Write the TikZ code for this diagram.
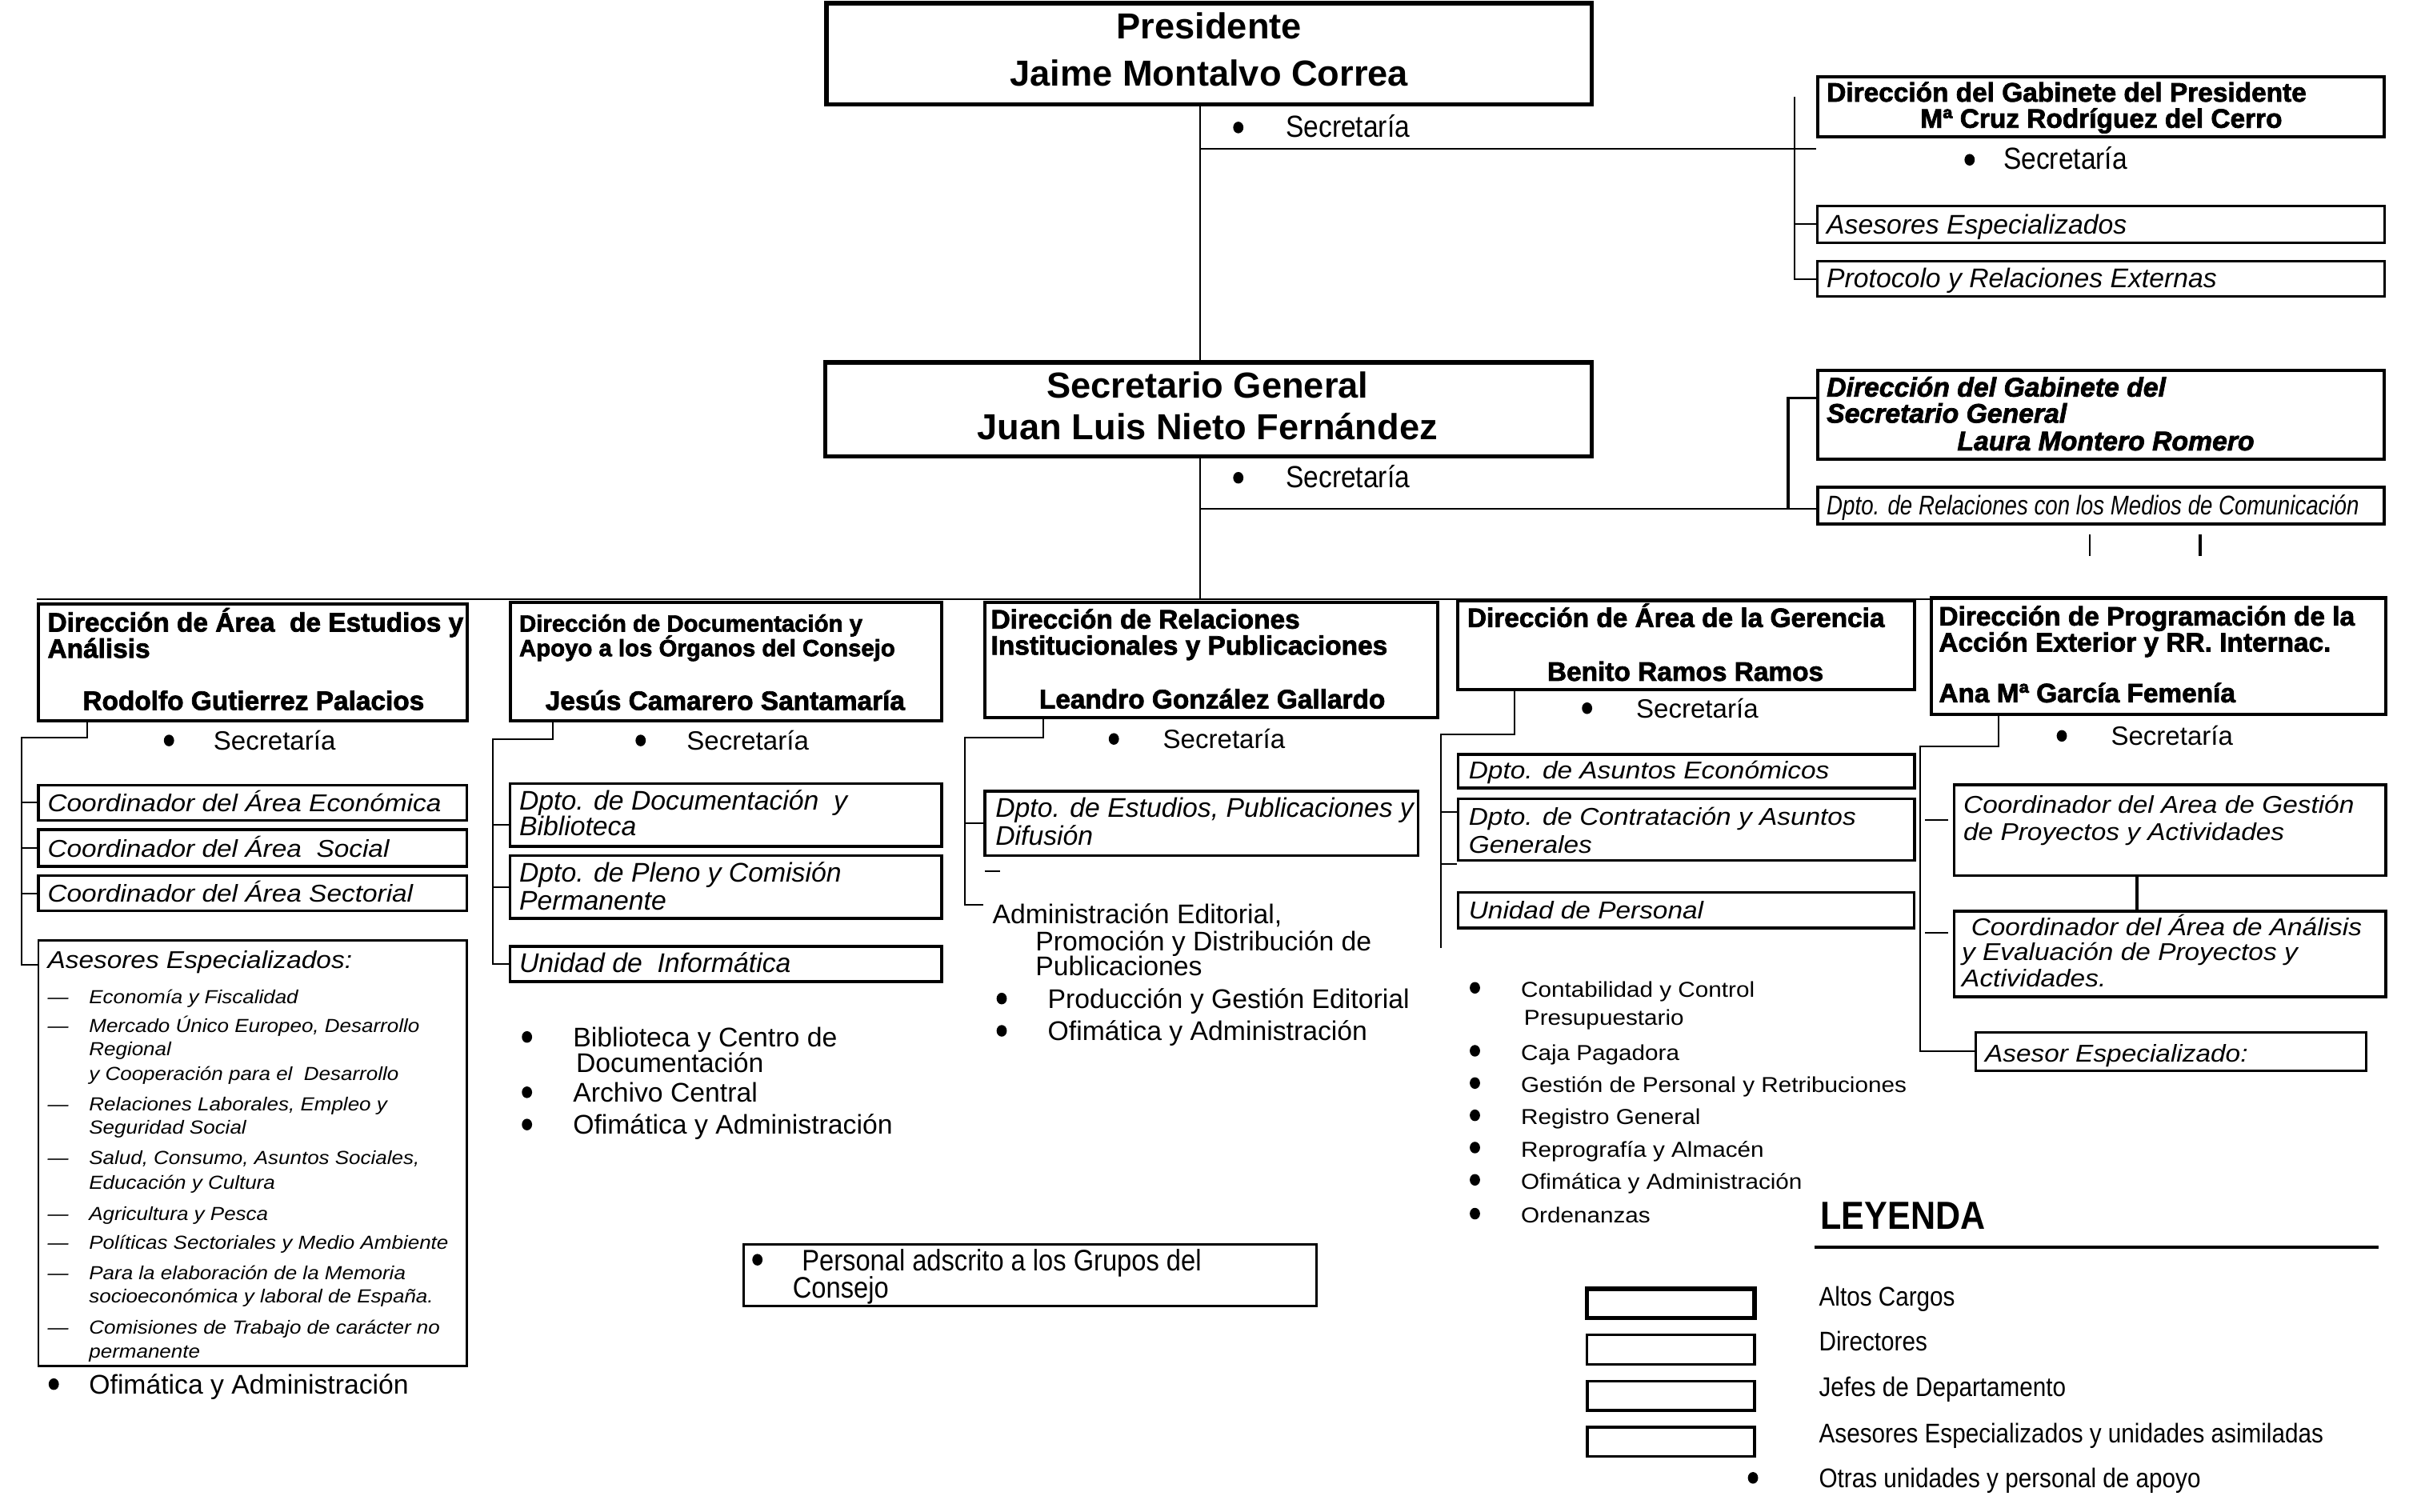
\documentclass[tikz,border=0pt]{standalone}
\usepackage{fontspec}
\setmainfont{Liberation Sans}
\newfontfamily\heavyfam{Liberation Sans}[BoldFeatures={FakeBold=2.2},BoldItalicFeatures={FakeBold=2.2}]
\newfontfamily\widefam{Liberation Sans}[FakeStretch=1.1]
\newfontfamily\narrowfam{Liberation Sans}[FakeStretch=0.88]
\newfontfamily\condfam{Liberation Sans}[FakeStretch=0.82]
\usetikzlibrary{fit,shapes.geometric}
\newcounter{tn}
\newcommand\Tx[4][]{\stepcounter{tn}\node[tx,#1] (t\arabic{tn}) at (#2,#3) {#4};}
\newcommand\Bu[2]{\stepcounter{tn}\node[bul] (b\arabic{tn}) at (#1,#2) {};}
\newcommand\Bx[6]{\node[#1, fit={(#3,#4) (#5,#6)}] (#2) {};}
\tikzset{
  tx/.style={anchor=west, inner sep=0pt, outer sep=0pt, text height=.7em, text depth=0pt},
  tc/.style={anchor=center},
  bul/.style={ellipse, fill=black, inner sep=0pt, minimum width=3.8pt, minimum height=4.3pt},
  conn/.style={line width=0.6pt},
  conntwo/.style={line width=1.1pt},
  altos/.style={draw, line width=1.6pt, inner sep=0pt},
  dirb/.style={draw, line width=1.2pt, inner sep=0pt},
  dirthin/.style={draw, line width=0.9pt, inner sep=0pt},
  jefb/.style={draw, line width=1.1pt, inner sep=0pt},
  asb/.style={draw, line width=1.0pt, inner sep=0pt},
  asthin/.style={draw, line width=0.8pt, inner sep=0pt},
  fTop/.style={font=\bfseries\fontsize{13.4}{15}\selectfont},
  fSecTop/.style={font=\narrowfam\fontsize{11.3}{13}\selectfont},
  fGab/.style={font=\heavyfam\bfseries\fontsize{9.9}{12}\selectfont},
  fGabI/.style={font=\heavyfam\bfseries\itshape\fontsize{10}{12}\selectfont},
  fIt/.style={font=\itshape\fontsize{10}{12}\selectfont},
  fMed/.style={font=\condfam\itshape\fontsize{10}{12}\selectfont},
  fDir/.style={font=\heavyfam\bfseries\fontsize{9.9}{12}\selectfont},
  fDirS/.style={font=\heavyfam\bfseries\fontsize{8.7}{10}\selectfont},
  fCo/.style={font=\widefam\itshape\fontsize{9}{11}\selectfont},
  fItem/.style={font=\widefam\itshape\fontsize{7}{8}\selectfont},
  fReg/.style={font=\fontsize{10}{12}\selectfont},
  fSec/.style={font=\fontsize{9.8}{12}\selectfont},
  fList/.style={font=\widefam\fontsize{8}{10}\selectfont},
  fLeg/.style={font=\narrowfam\fontsize{10}{12}\selectfont},
  fLey/.style={font=\narrowfam\bfseries\fontsize{14.5}{16}\selectfont},
  fPers/.style={font=\narrowfam\fontsize{11}{13}\selectfont},
}
\begin{document}
\begin{tikzpicture}[x=0.02cm,y=-0.02cm]
\useasboundingbox (0,0) rectangle (1568,984);
\fill[white] (0,0) rectangle (1568,984);

% ---------------- boxes
\Bx{altos}{pres}{538}{2}{1036}{68}
\Bx{altos}{sg}{537}{236}{1036}{297}
\Bx{dirb}{gabp}{1183}{50}{1552}{89}
\Bx{asb}{asep}{1183}{134}{1552}{158}
\Bx{asb}{prot}{1183}{170}{1552}{193}
\Bx{dirb}{gabsg}{1183}{241}{1552}{299}
\Bx{jefb}{medios}{1183}{317}{1552}{341}
\Bx{dirb}{d1}{25}{393}{304}{469}
\Bx{dirb}{d2}{332}{392}{613}{469}
\Bx{dirb}{d3}{641}{392}{936}{467}
\Bx{dirb}{d4}{949}{391}{1246}{449}
\Bx{dirb}{d5}{1257}{389}{1553}{465}
\Bx{asb}{c1a}{25}{511}{304}{534}
\Bx{asb}{c1b}{25}{540}{304}{564}
\Bx{asb}{c1c}{25}{570}{304}{593}
\Bx{asthin}{a1}{25}{612}{304}{889}
\Bx{jefb}{c2a}{332}{510}{613}{551}
\Bx{jefb}{c2b}{332}{557}{613}{598}
\Bx{asb}{c2c}{332}{616}{613}{639}
\Bx{jefb}{c3a}{641}{515}{923}{557}
\Bx{jefb}{c4a}{949}{491}{1246}{513}
\Bx{jefb}{c4b}{949}{520}{1246}{560}
\Bx{asb}{c4c}{949}{581}{1246}{604}
\Bx{jefb}{c5a}{1272}{511}{1553}{570}
\Bx{jefb}{c5b}{1272}{593}{1553}{649}
\Bx{asb}{c5c}{1286}{672}{1540}{697}
\Bx{asthin}{pers}{484}{810}{857}{850}
\Bx{altos}{l1}{1033}{839}{1142}{858}
\Bx{dirthin}{l2}{1033}{869}{1142}{888}
\Bx{jefb}{l3}{1033}{899}{1142}{918}
\Bx{jefb}{l4}{1033}{929}{1142}{948}

% ---------------- connectors
\coordinate (kx) at (781,0);
\coordinate (row) at (0,390);
\draw[conn] (pres.south -| kx) -- (sg.north -| kx);
\coordinate (jT) at (781,97);
\draw[conn] (jT) -- (jT -| asep.west);
\coordinate (vP) at (1168,63);
\draw[conn] (vP) -- (vP |- prot.west) -- (prot.west);
\draw[conn] (vP |- asep.west) -- (asep.west);
\draw[conn] (sg.south -| kx) -- (kx |- row);
\coordinate (jS) at (781,331);
\draw[conn] (jS) -- (jS -| medios.west);
\coordinate (vS) at (1164,259);
\draw[conntwo] (gabsg.west |- vS) -- (vS) -- (vS |- jS);
\coordinate (s1) at (1360,348);
\coordinate (s2) at (1432,348);
\draw[conn] (s1) -- ++(0,14);
\draw[conntwo] (s2) -- ++(0,14);
\draw[conn] (row -| d1.west) -- (row -| d5.east);

% col 1
\coordinate (k1) at (57,480);
\coordinate (v1) at (14,480);
\coordinate (v1b) at (14,628);
\draw[conn] (d1.south -| k1) -- (k1) -- (v1) -- (v1b) -- (v1b -| a1.west);
\draw[conn] (v1 |- c1a.west) -- (c1a.west);
\draw[conn] (v1 |- c1b.west) -- (c1b.west);
\draw[conn] (v1 |- c1c.west) -- (c1c.west);
% col 2
\coordinate (k2) at (360,481);
\coordinate (v2) at (321,481);
\draw[conn] (d2.south -| k2) -- (k2) -- (v2) -- (v2 |- c2c.west) -- (c2c.west);
\coordinate (t2a) at (321,537);
\draw[conn] (t2a) -- (t2a -| c2a.west);
\draw[conn] (v2 |- c2b.west) -- (c2b.west);
% col 3
\coordinate (k3) at (679,480);
\coordinate (v3) at (628,480);
\coordinate (v3b) at (628,589);
\coordinate (v3c) at (640,589);
\draw[conn] (d3.south -| k3) -- (k3) -- (v3) -- (v3b) -- (v3c);
\draw[conn] (v3 |- c3a.west) -- (c3a.west);
\coordinate (dh3a) at (641,567);
\coordinate (dh3b) at (651,567);
\draw[conn] (dh3a) -- (dh3b);
% col 4
\coordinate (k4) at (986,478);
\coordinate (v4) at (938,478);
\coordinate (v4b) at (938,617);
\draw[conn] (d4.south -| k4) -- (k4) -- (v4) -- (v4b);
\coordinate (t4a) at (938,528.5);
\coordinate (t4b) at (938,562.5);
\draw[conn] (t4a) -- (t4a -| c4b.west);
\draw[conn] (t4b) -- (t4b -| c4b.west);
% col 5
\coordinate (k5) at (1301,486);
\coordinate (v5) at (1250,486);
\draw[conn] (d5.south -| k5) -- (k5) -- (v5) -- (v5 |- c5c.west) -- (c5c.west);
\coordinate (dh5a) at (1253,534);
\coordinate (dh5b) at (1268,534);
\coordinate (dh5c) at (1253,607);
\coordinate (dh5d) at (1268,607);
\draw[conn] (dh5a) -- (dh5b);
\draw[conn] (dh5c) -- (dh5d);
\coordinate (k5b) at (1391,0);
\draw[conntwo] (c5a.south -| k5b) -- (c5b.north -| k5b);
% legend rule
\coordinate (lr1) at (1181,812);
\coordinate (lr2) at (1548,812);
\draw[line width=1.2pt] (lr1) -- (lr2);

% ---------------- texts: top
\Tx[fTop,tc]{787}{19}{Presidente}
\Tx[fTop,tc]{787}{50}{Jaime Montalvo Correa}
\Bu{806}{83}
\Tx[fSecTop]{837}{83}{Secretaría}
\Tx[fTop,tc]{786}{253}{Secretario General}
\Tx[fTop,tc]{786}{280}{Juan Luis Nieto Fernández}
\Bu{806}{311}
\Tx[fSecTop]{837}{311}{Secretaría}

% gabinete presidente
\Tx[fGab]{1189}{60}{Dirección del Gabinete del Presidente}
\Tx[fGab]{1250}{77}{Mª Cruz Rodríguez del Cerro}
\Bu{1282}{104}
\Tx[fSecTop]{1304}{104}{Secretaría}
\Tx[fIt]{1189}{146}{Asesores Especializados}
\Tx[fIt]{1189}{181}{Protocolo y Relaciones Externas}

% gabinete SG
\Tx[fGabI]{1189}{252}{Dirección del Gabinete del}
\Tx[fGabI]{1189}{269}{Secretario General}
\Tx[fGabI]{1274}{287}{Laura Montero Romero}
\Tx[fMed]{1189}{329}{Dpto. de Relaciones con los Medios de Comunicación}

% column 1
\Tx[fDir]{31}{405}{Dirección de Área\ \ de Estudios y}
\Tx[fDir]{31}{422}{Análisis}
\Tx[fDir,tc]{165}{456}{Rodolfo Gutierrez Palacios}
\Bu{110}{482}
\Tx[fSec]{139}{482}{Secretaría}
\Tx[fCo]{31}{522}{Coordinador del Área Económica}
\Tx[fCo]{31}{552}{Coordinador del Área\ \ Social}
\Tx[fCo]{31}{581}{Coordinador del Área Sectorial}
\Tx[fCo]{31}{624}{Asesores Especializados:}
\Tx[fItem]{31}{647}{—}
\Tx[fItem]{58}{647}{Economía y Fiscalidad}
\Tx[fItem]{31}{666}{—}
\Tx[fItem]{58}{666}{Mercado Único Europeo, Desarrollo}
\Tx[fItem]{58}{681}{Regional}
\Tx[fItem]{58}{697}{y Cooperación para el\ \ Desarrollo}
\Tx[fItem]{31}{717}{—}
\Tx[fItem]{58}{717}{Relaciones Laborales, Empleo y}
\Tx[fItem]{58}{732}{Seguridad Social}
\Tx[fItem]{31}{752}{—}
\Tx[fItem]{58}{752}{Salud, Consumo, Asuntos Sociales,}
\Tx[fItem]{58}{768}{Educación y Cultura}
\Tx[fItem]{31}{788}{—}
\Tx[fItem]{58}{788}{Agricultura y Pesca}
\Tx[fItem]{31}{807}{—}
\Tx[fItem]{58}{807}{Políticas Sectoriales y Medio Ambiente}
\Tx[fItem]{31}{827}{—}
\Tx[fItem]{58}{827}{Para la elaboración de la Memoria}
\Tx[fItem]{58}{842}{socioeconómica y laboral de España.}
\Tx[fItem]{31}{862}{—}
\Tx[fItem]{58}{862}{Comisiones de Trabajo de carácter no}
\Tx[fItem]{58}{878}{permanente}
\Bu{35}{901}
\Tx[fReg]{58}{901}{Ofimática y Administración}

% column 2
\Tx[fDirS]{338}{405}{Dirección de Documentación y}
\Tx[fDirS]{338}{421}{Apoyo a los Órganos del Consejo}
\Tx[fDir,tc]{472}{456}{Jesús Camarero Santamaría}
\Bu{417}{482}
\Tx[fSec]{447}{482}{Secretaría}
\Tx[fIt]{338}{521}{Dpto. de Documentación\ \ y}
\Tx[fIt]{338}{538}{Biblioteca}
\Tx[fIt]{338}{568}{Dpto. de Pleno y Comisión}
\Tx[fIt]{338}{586}{Permanente}
\Tx[fIt]{338}{627}{Unidad de\ \ Informática}
\Bu{343}{675}
\Tx[fReg]{373}{675}{Biblioteca y Centro de}
\Tx[fReg]{375}{692}{Documentación}
\Bu{343}{711}
\Tx[fReg]{373}{711}{Archivo Central}
\Bu{343}{732}
\Tx[fReg]{373}{732}{Ofimática y Administración}

% column 3
\Tx[fDir]{645}{403}{Dirección de Relaciones}
\Tx[fDir]{645}{420}{Institucionales y Publicaciones}
\Tx[fDir,tc]{789}{455}{Leandro González Gallardo}
\Bu{725}{481}
\Tx[fSec]{757}{481}{Secretaría}
\Tx[fIt]{648}{526}{Dpto. de Estudios, Publicaciones y}
\Tx[fIt]{648}{544}{Difusión}
\Tx[fReg]{646}{595}{Administración Editorial,}
\Tx[fReg]{674}{613}{Promoción y Distribución de}
\Tx[fReg]{674}{629}{Publicaciones}
\Bu{652}{650}
\Tx[fReg]{682}{650}{Producción y Gestión Editorial}
\Bu{652}{671}
\Tx[fReg]{682}{671}{Ofimática y Administración}

% column 4
\Tx[fDir]{955}{402}{Dirección de Área de la Gerencia}
\Tx[fDir,tc]{1097}{437}{Benito Ramos Ramos}
\Bu{1033}{461}
\Tx[fSec]{1065}{461}{Secretaría}
\Tx[fCo]{956}{501}{Dpto. de Asuntos Económicos}
\Tx[fCo]{956}{531}{Dpto. de Contratación y Asuntos}
\Tx[fCo]{956}{549}{Generales}
\Tx[fCo]{956}{592}{Unidad de Personal}
\Bu{960}{643}
\Tx[fList]{990}{643}{Contabilidad y Control}
\Tx[fList]{992}{661}{Presupuestario}
\Bu{960}{684}
\Tx[fList]{990}{684}{Caja Pagadora}
\Bu{960}{705}
\Tx[fList]{990}{705}{Gestión de Personal y Retribuciones}
\Bu{960}{726}
\Tx[fList]{990}{726}{Registro General}
\Bu{960}{747}
\Tx[fList]{990}{747}{Reprografía y Almacén}
\Bu{960}{768}
\Tx[fList]{990}{768}{Ofimática y Administración}
\Bu{960}{790}
\Tx[fList]{990}{790}{Ordenanzas}

% column 5
\Tx[fDir]{1262}{401}{Dirección de Programación de la}
\Tx[fDir]{1262}{418}{Acción Exterior y RR. Internac.}
\Tx[fDir]{1262}{451}{Ana Mª García Femenía}
\Bu{1342}{479}
\Tx[fSec]{1374}{479}{Secretaría}
\Tx[fCo]{1278}{523}{Coordinador del Area de Gestión}
\Tx[fCo]{1278}{541}{de Proyectos y Actividades}
\Tx[fCo]{1283}{603}{Coordinador del Área de Análisis}
\Tx[fCo]{1277}{619}{y Evaluación de Proyectos y}
\Tx[fCo]{1277}{636}{Actividades.}
\Tx[fCo]{1292}{685}{Asesor Especializado:}

% personal
\Bu{493}{820}
\Tx[fPers]{522}{821}{Personal adscrito a los Grupos del}
\Tx[fPers]{516}{839}{Consejo}

% legend
\Tx[fLey]{1185}{794}{LEYENDA}
\Tx[fLeg]{1184}{844}{Altos Cargos}
\Tx[fLeg]{1184}{873}{Directores}
\Tx[fLeg]{1184}{903}{Jefes de Departamento}
\Tx[fLeg]{1184}{933}{Asesores Especializados y unidades asimiladas}
\Bu{1141}{962}
\Tx[fLeg]{1184}{962}{Otras unidades y personal de apoyo}
\end{tikzpicture}
\end{document}
